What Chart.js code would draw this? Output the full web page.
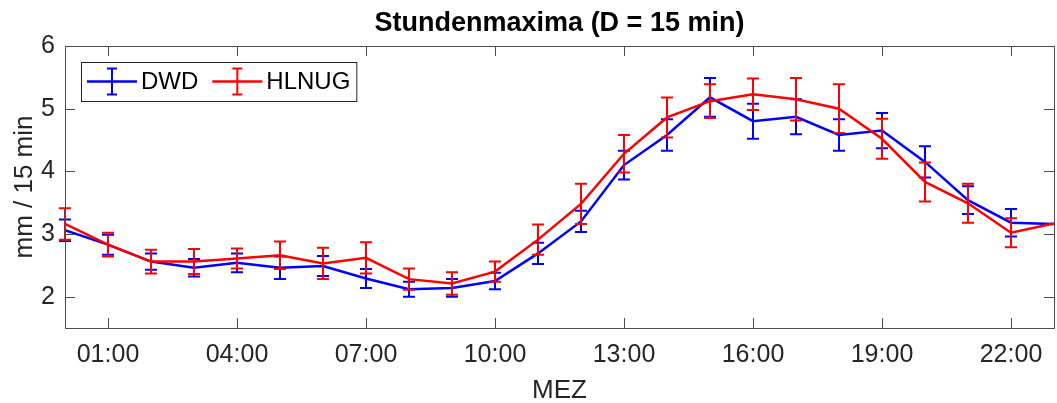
<!DOCTYPE html>
<html>
<head>
<meta charset="utf-8">
<script src="https://cdn.jsdelivr.net/npm/chart.js@4/dist/chart.umd.min.js"></script>
<style>
  html, body { margin: 0; padding: 0; background: #fff; }
  #wrap { width: 1057px; height: 403px; }
</style>
</head>
<body>
<div id="wrap"><canvas id="chart" width="1057" height="403"></canvas></div>
<script>
const hours = [0,1,2,3,4,5,6,7,8,9,10,11,12,13,14,15,16,17,18,19,20,21,22,23];
const tickHours = [1,4,7,10,13,16,19,22];
const tickLabels = ['01:00','04:00','07:00','10:00','13:00','16:00','19:00','22:00'];
const yTicks = [2,3,4,5,6];
const chartTitle = 'Stundenmaxima (D = 15 min)';

const dwd    = [3.06,2.83,2.56,2.46,2.54,2.46,2.49,2.29,2.12,2.14,2.25,2.69,3.20,4.10,4.58,5.18,4.80,4.87,4.58,4.65,4.15,3.54,3.18,3.16];
const dwdErr = [0.17,0.16,0.13,0.14,0.15,0.18,0.16,0.15,0.12,0.14,0.13,0.17,0.17,0.23,0.25,0.31,0.28,0.28,0.25,0.28,0.25,0.22,0.22,null];
const hlnug    = [3.16,2.83,2.56,2.56,2.61,2.66,2.53,2.62,2.28,2.21,2.40,2.91,3.48,4.28,4.86,5.12,5.23,5.15,5.00,4.52,3.83,3.49,3.02,3.17];
const hlnugErr = [0.25,0.19,0.19,0.20,0.16,0.22,0.25,0.25,0.17,0.18,0.16,0.24,0.32,0.30,0.32,0.27,0.25,0.34,0.39,0.32,0.31,0.31,0.23,null];

const FONT = "'Liberation Sans', Arial, Helvetica, sans-serif";
const AXIS = '#4d4d4d';

function toPoints(vals) {
  return hours.map((h, i) => ({ x: h, y: vals[i] }));
}

// vertical error bars with caps, drawn right after each line
const errorBars = {
  id: 'errorBars',
  afterDatasetDraw(chart, args) {
    const ds = chart.data.datasets[args.index];
    if (!ds.errors) return;
    const { ctx, scales: { x, y } } = chart;
    ctx.save();
    ctx.strokeStyle = ds.borderColor;
    ctx.lineWidth = 2;
    ds.data.forEach((p, i) => {
      const e = ds.errors[i];
      if (e == null) return;
      const px = x.getPixelForValue(p.x);
      const top = y.getPixelForValue(p.y + e);
      const bot = y.getPixelForValue(p.y - e);
      ctx.beginPath();
      ctx.moveTo(px, top); ctx.lineTo(px, bot);
      ctx.moveTo(px - 6, top); ctx.lineTo(px + 6, top);
      ctx.moveTo(px - 6, bot); ctx.lineTo(px + 6, bot);
      ctx.stroke();
    });
    ctx.restore();
  }
};

// box around plot with inward ticks, title over the plot area, legend box
const frame = {
  id: 'frame',
  afterDraw(chart) {
    const { ctx, chartArea: a, scales: { x, y } } = chart;
    ctx.save();
    ctx.strokeStyle = AXIS;
    ctx.lineWidth = 1;
    ctx.strokeRect(a.left + 0.5, a.top + 0.5, a.right - a.left, a.bottom - a.top);
    ctx.beginPath();
    tickHours.forEach(h => {
      const px = Math.round(x.getPixelForValue(h)) + 0.5;
      ctx.moveTo(px, a.bottom); ctx.lineTo(px, a.bottom - 10);
      ctx.moveTo(px, a.top); ctx.lineTo(px, a.top + 10);
    });
    yTicks.forEach(v => {
      const py = Math.round(y.getPixelForValue(v)) + 0.5;
      ctx.moveTo(a.left, py); ctx.lineTo(a.left + 10, py);
      ctx.moveTo(a.right, py); ctx.lineTo(a.right - 10, py);
    });
    ctx.stroke();

    // title
    ctx.fillStyle = '#000';
    ctx.font = 'bold 27px ' + FONT;
    ctx.textAlign = 'center';
    ctx.textBaseline = 'middle';
    ctx.fillText(chartTitle, (a.left + a.right) / 2, a.top - 22);

    // legend
    ctx.textAlign = 'left';
    const lx = a.left + 16, ly = a.top + 16, lh = 39;
    ctx.font = '24px ' + FONT;
    let cx = lx + 6;
    const cy = ly + lh / 2;
    const parts = chart.data.datasets.map(ds => ({
      label: ds.label, color: ds.borderColor, w: ctx.measureText(ds.label).width
    }));
    let total = 6;
    parts.forEach(p => { total += 50 + 4 + p.w + 14; });
    total -= 8;
    ctx.fillStyle = '#fff';
    ctx.fillRect(lx, ly, total, lh);
    ctx.strokeStyle = '#262626';
    ctx.strokeRect(lx + 0.5, ly + 0.5, total, lh);
    parts.forEach(p => {
      ctx.strokeStyle = p.color;
      ctx.lineWidth = 2.5;
      ctx.beginPath();
      ctx.moveTo(cx, cy); ctx.lineTo(cx + 50, cy);
      ctx.stroke();
      ctx.lineWidth = 2;
      ctx.beginPath();
      ctx.moveTo(cx + 25, cy - 13); ctx.lineTo(cx + 25, cy + 13);
      ctx.moveTo(cx + 20, cy - 13); ctx.lineTo(cx + 30, cy - 13);
      ctx.moveTo(cx + 20, cy + 13); ctx.lineTo(cx + 30, cy + 13);
      ctx.stroke();
      ctx.fillStyle = '#000';
      ctx.fillText(p.label, cx + 54, cy + 1);
      cx += 50 + 4 + p.w + 14;
    });
    ctx.restore();
  }
};

new Chart(document.getElementById('chart'), {
  type: 'line',
  data: {
    datasets: [
      { label: 'DWD', data: toPoints(dwd), errors: dwdErr, borderColor: '#0000ff', order: 1 },
      { label: 'HLNUG', data: toPoints(hlnug), errors: hlnugErr, borderColor: '#ff0000', order: 0 }
    ]
  },
  options: {
    responsive: false,
    animation: false,
    layout: { padding: { left: 0, right: 3, top: 46, bottom: 0 } },
    elements: {
      line: { borderWidth: 2.5, tension: 0, fill: false },
      point: { radius: 0, hoverRadius: 0 }
    },
    plugins: {
      legend: { display: false },
      tooltip: { enabled: false },
      title: { display: false }
    },
    scales: {
      x: {
        type: 'linear',
        min: 0, max: 23,
        afterBuildTicks: s => { s.ticks = tickHours.map(v => ({ value: v })); },
        afterFit: s => { s.height = 75; },
        grid: { display: false, drawTicks: false },
        border: { display: false },
        ticks: {
          padding: 12,
          color: '#262626',
          font: { family: FONT, size: 25 },
          autoSkip: false,
          maxRotation: 0,
          callback: v => tickLabels[tickHours.indexOf(v)]
        },
        title: {
          display: true, text: 'MEZ', color: '#262626',
          font: { family: FONT, size: 26 },
          padding: { top: 0, bottom: -3 }
        }
      },
      y: {
        min: 1.5, max: 6,
        afterBuildTicks: s => { s.ticks = yTicks.map(v => ({ value: v })); },
        afterFit: s => { s.width = 65; },
        grid: { display: false, drawTicks: false },
        border: { display: false },
        ticks: {
          padding: 10,
          color: '#262626',
          font: { family: FONT, size: 25 }
        },
        title: {
          display: true, text: 'mm / 15 min', color: '#262626',
          font: { family: FONT, size: 26 },
          padding: { top: 9, bottom: 0 }
        }
      }
    }
  },
  plugins: [errorBars, frame]
});
</script>
</body>
</html>
